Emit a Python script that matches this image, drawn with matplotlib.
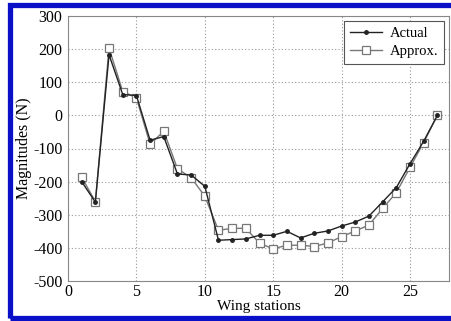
import matplotlib
matplotlib.use("Agg")
import matplotlib.pyplot as plt
from matplotlib.patches import Rectangle

stations = list(range(1, 28))
actual = [-200, -262, 183, 63, 60, -75, -64, -177, -180, -214, -377, -375, -373, -362, -362,
          -350, -370, -356, -349, -334, -322, -304, -261, -218, -146, -78, 0]
approx = [-187, -260, 203, 72, 53, -87, -48, -161, -188, -244, -347, -341, -341, -386, -403,
          -392, -392, -396, -385, -366, -349, -331, -281, -233, -157, -82, 0]
xticks = [0, 5, 10, 15, 20, 25]
yticks = [-500, -400, -300, -200, -100, 0, 100, 200, 300]

plt.rcParams['font.family'] = ['Liberation Serif', 'DejaVu Serif']
plt.rcParams['axes.unicode_minus'] = False

fig = plt.figure(figsize=(4.52, 3.21), dpi=100)
ax = fig.add_axes([68 / 452, 1 - 281 / 321, 381 / 452, 265 / 321])

ax.plot(stations, approx, color='#777777', lw=1.0, marker='s', markersize=6,
        markerfacecolor='white', markeredgecolor='#777777', markeredgewidth=0.9,
        label='Approx.', zorder=3)
ax.plot(stations, actual, color='#222222', lw=1.0, marker='o', markersize=2.5,
        markerfacecolor='#222222', markeredgecolor='#222222', label='Actual', zorder=4)

ax.set_xlim(0, 27.85)
ax.set_ylim(-500, 300)
ax.set_xticks(xticks)
ax.set_yticks(yticks)
ax.tick_params(labelsize=11.5, length=0, pad=4)
ax.tick_params(axis='x', pad=2)
ax.grid(True, color='#999999', linestyle=(0, (1, 2)), linewidth=0.8)
for s in ax.spines.values():
    s.set_color('#888888')
    s.set_linewidth(0.8)

ax.set_xlabel('Wing stations', fontsize=11, labelpad=0)
ax.set_ylabel('Magnitudes (N)', fontsize=11.5, labelpad=1)

handles, labels = ax.get_legend_handles_labels()
leg = ax.legend(handles[::-1], labels[::-1], loc='upper right', fontsize=10.5,
                frameon=True, fancybox=False, framealpha=1, edgecolor='#555555',
                borderaxespad=0.35, handlelength=2.2, borderpad=0.4, labelspacing=0.35,
                handletextpad=0.5)
leg.get_frame().set_linewidth(0.8)

fig.patches.append(Rectangle((9.5 / 452, 3 / 321), 460 / 452, 313 / 321,
                             transform=fig.transFigure, fill=False,
                             edgecolor='#0A10C8', linewidth=3.8, zorder=10))

fig.savefig('out.png', dpi=100)
